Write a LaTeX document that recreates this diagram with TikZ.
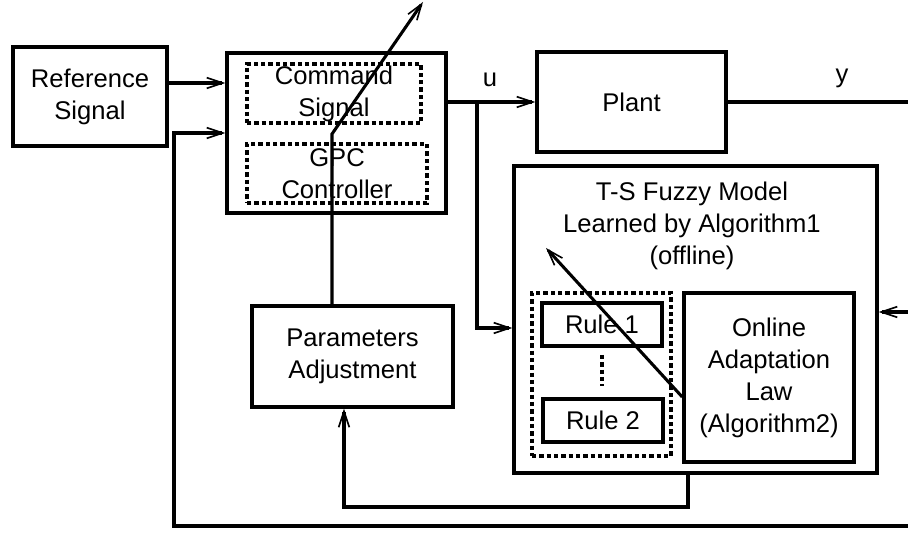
\documentclass[tikz,border=0pt]{standalone}
\usepackage{fontspec}
\setsansfont{Liberation Sans}
\usetikzlibrary{arrows.meta}

\begin{document}
\begin{tikzpicture}[x=0.75pt,y=-0.75pt, font=\sffamily\fontsize{19.2pt}{24pt}\selectfont,
  wh/.style 2 args={minimum width=#1*0.75pt, minimum height=#2*0.75pt},
  block/.style={draw, line width=2.6pt, inner sep=0pt, align=center},
  dotbox/.style={draw, line width=3.2pt, dash pattern=on 3.2pt off 2.3pt, inner sep=0pt, align=center},
  arr/.style={-{Straight Barb[length=12pt,width=8pt,line width=1.2pt]}},
  sig/.style={line width=3.7pt, arr},
  fb/.style={line width=2.6pt},
  tune/.style={line width=2.3pt}]
\useasboundingbox (0,0) rectangle (908,534);

% blocks
\node[block, wh={154}{99}] (ref) at (90,96.5) {Reference\\Signal};
\node[block, wh={219}{160}] (ctrl) at (336.5,133) {};
\node[dotbox, wh={174}{59}] (cmd) at (334,93.5) {Command\\Signal};
\node[dotbox, wh={180}{59}] (gpc) at (337,173.5) {GPC\\Controller};
\node[block, wh={189}{100}] (plant) at (631.5,102) {Plant};
\node[block, wh={201}{101}] (param) at (352.5,356.5) {Parameters\\Adjustment};

% fuzzy model
\node[block, wh={363}{307}] (ts) at (695.5,319.5) {};
\node[align=center] (tstitle) at (692,226) {T-S Fuzzy Model\\Learned by Algorithm1\\(offline)};
\node[dotbox, wh={139}{163}] (rules) at (601.5,374.5) {};
\node[block, wh={120}{43}] (rule1) at (602,324.5) {Rule 1};
\node[block, wh={120}{43}] (rule2) at (603,420.5) {Rule 2};
\draw[line width=3.2pt, dash pattern=on 3.2pt off 2.3pt] (602,355) -- (602,386);
\node[block, wh={170}{169}] (law) at (769,377.5) {Online\\Adaptation\\Law\\(Algorithm2)};

% signal labels
\node (lu) at (490,80) {u};
\node (ly) at (842,78) {y};

% tap points
\coordinate (ra) at (0,83);
\coordinate (ub) at (477,102);
\coordinate (tin) at (0,328);
\coordinate (yend) at (908,102);
\coordinate (xin) at (908,312);
\coordinate (fbr) at (908,526);
\coordinate (fbl) at (174,133);
\coordinate (pk) at (332,134);
\coordinate (ptip) at (423,2);
\coordinate (dl) at (0,397);
\coordinate (dtip) at (546,248);
\coordinate (bx) at (688,507);
\coordinate (bp) at (344,0);

% connectors
\draw[sig] (ref.east |- ra) -- (ctrl.west |- ra);
\draw[sig] (ctrl.east |- plant) -- (plant.west);
\draw[sig] (ub) |- (ts.west |- tin);
\draw[fb] (plant.east) -- (yend);
\draw[fb, arr] (xin) -- (ts.east |- xin);
\draw[fb, arr] (fbr) -| (fbl) -- (ctrl.west |- fbl);
\draw[tune, arr] (param.north -| pk) -- (pk) -- (ptip);
\draw[tune, arr] (law.west |- dl) -- (dtip);
\draw[fb, arr] (ts.south -| bx) |- (bp |- bx) -- (param.south -| bp);
\end{tikzpicture}
\end{document}
